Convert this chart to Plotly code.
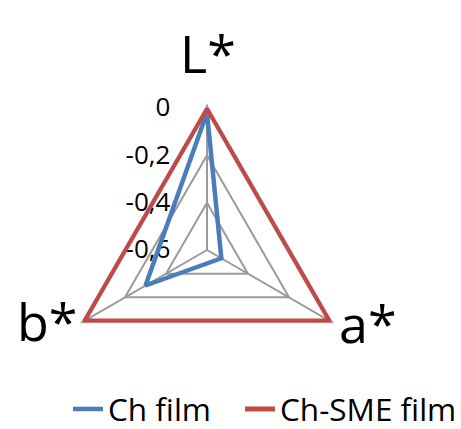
import plotly.graph_objects as go

categories = ["L*", "a*", "b*"]
ch_film = [-0.02, -0.53, -0.30]
ch_sme_film = [0.0, 0.0, 0.0]
series_names = ["Ch film", "Ch-SME film"]
radial_tickvals = [-0.6, -0.4, -0.2, 0.0]
radial_ticktext = ["-0,6", "-0,4", "-0,2", "0"]

FONT = "Open Sans"
colors = ["#4A7EBB", "#BE4B48"]
W, H = 461, 429
R_MIN, R_MAX = -0.6, 0.015   # small headroom so the outer line is not clipped

fig = go.Figure()
for name, vals, col, w, lg in [(series_names[0], ch_film, colors[0], 4.5, "legend"),
                               (series_names[1], ch_sme_film, colors[1], 5, "legend2")]:
    fig.add_trace(go.Scatterpolar(
        r=vals + vals[:1],
        theta=categories + categories[:1],
        mode="lines",
        name=name,
        line=dict(color=col, width=w),
        cliponaxis=False,
        legend=lg,
        showlegend=True,
    ))

# category labels placed around the radar (layout only)
label_pos = {
    "L*": dict(x=208, y=52, xanchor="center"),
    "a*": dict(x=337, y=322, xanchor="left"),
    "b*": dict(x=79, y=320, xanchor="right"),
}
annotations = []
for c in categories:
    p = label_pos[c]
    annotations.append(dict(
        text=c, x=p["x"] / W, y=1 - p["y"] / H, xref="paper", yref="paper",
        xanchor=p["xanchor"], yanchor="middle", showarrow=False,
        font=dict(size=52, family=FONT, color="black"),
    ))

legend_style = dict(
    orientation="h",
    xanchor="left",
    y=1 - 409 / H, yanchor="middle",
    font=dict(size=31.5, family=FONT, color="black"),
    itemwidth=30,
    bgcolor="rgba(0,0,0,0)",
)

cx, cy = 207, 250
R = 142 * (R_MAX - R_MIN) / (0 - R_MIN)

fig.update_layout(
    width=W, height=H,
    margin=dict(l=0, r=0, t=0, b=0, autoexpand=False),
    paper_bgcolor="white",
    plot_bgcolor="white",
    font=dict(family=FONT, color="black"),
    annotations=annotations,
    showlegend=True,
    polar=dict(
        domain=dict(x=[(cx - R) / W, (cx + R) / W], y=[1 - (cy + R) / H, 1 - (cy - R) / H]),
        bgcolor="white",
        gridshape="linear",
        radialaxis=dict(
            range=[R_MIN, R_MAX],
            angle=90,
            side="counterclockwise",
            tickangle=90,
            tickvals=radial_tickvals,
            ticktext=radial_ticktext,
            tickfont=dict(size=26, family=FONT, color="black"),
            ticks="outside", ticklen=27, tickcolor="rgba(0,0,0,0)",
            showline=False,
            gridcolor="#9a9a9a", gridwidth=1.5,
            layer="below traces",
        ),
        angularaxis=dict(
            rotation=90,
            direction="clockwise",
            showticklabels=False,
            showline=False,
            gridcolor="#9a9a9a", gridwidth=1.5,
            ticks="",
            layer="below traces",
        ),
    ),
    legend=dict(legend_style, x=68 / W),
    legend2=dict(legend_style, x=240 / W),
)

fig.write_html("out.html", config={"displayModeBar": False},
               post_script="document.body.style.margin='0';")
